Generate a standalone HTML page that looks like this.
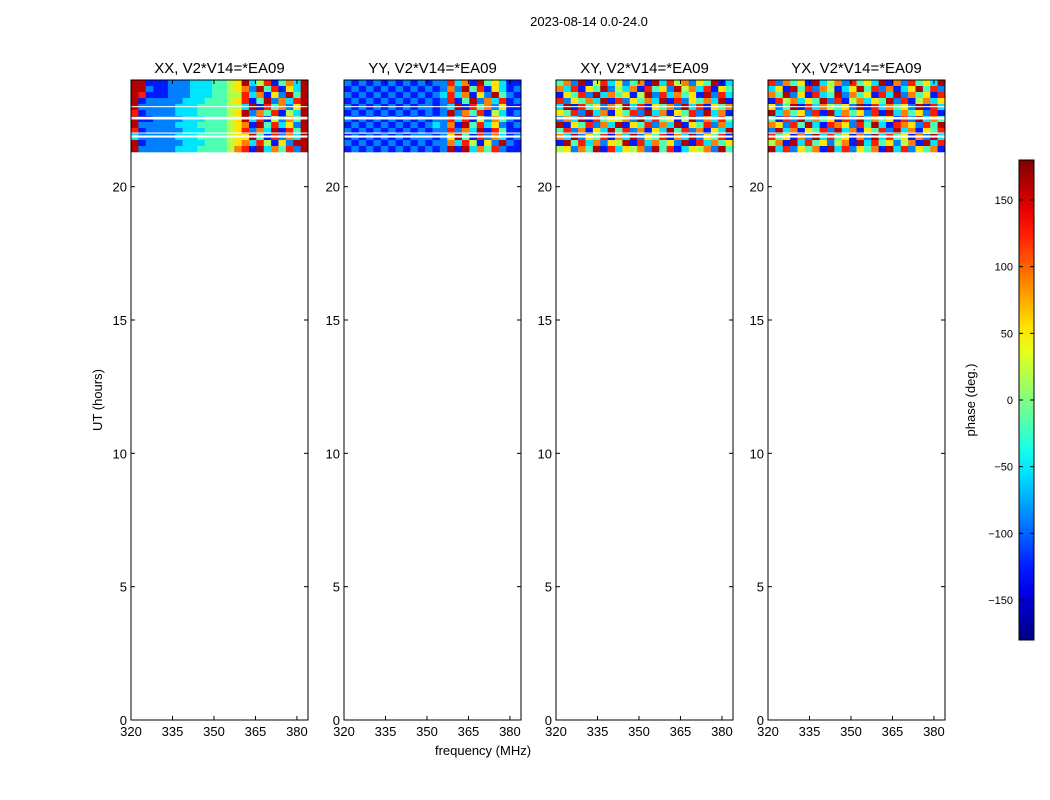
<!DOCTYPE html>
<html><head><meta charset="utf-8"><style>
html,body{margin:0;padding:0;background:#fff;}
svg{display:block;font-family:"Liberation Sans","DejaVu Sans",sans-serif;}
</style></head><body>
<svg id="fig" width="1050" height="800" viewBox="0 0 1050 800" xmlns="http://www.w3.org/2000/svg">
<rect width="1050" height="800" fill="#fff"/>
<text x="589" y="26" font-size="13" text-anchor="middle">2023-08-14 0.0-24.0</text>
<text x="483" y="755" font-size="13" text-anchor="middle">frequency (MHz)</text>
<text transform="translate(102,400) rotate(-90)" font-size="13" text-anchor="middle">UT (hours)</text>
<text transform="translate(975,400) rotate(-90)" font-size="13" text-anchor="middle">phase (deg.)</text>
<g id="panels"></g>
<g id="cbar"></g>
</svg>
<script>
// ---- data ----
const panelTitles = ["XX, V2*V14=*EA09","YY, V2*V14=*EA09","XY, V2*V14=*EA09","YX, V2*V14=*EA09"];
const xTicks = [320,335,350,365,380];
const yTicks = [0,5,10,15,20];
const cbTicks = [-150,-100,-50,0,50,100,150];
const freqRange = [320,384];
const timeRange = [0,24];
const dataTimeRange = [21.3,24];
// phase codes 0..9 -> -180..180 (bin centres)
const xxRows = [
"991112223334456935814739",
"992112223334456729481639",
"981112223334455837162949",
"912222233344456814927389",
"922222333444455391847269",
"812222333444456927481539",
"911222233344456938152749",
"922222333444456719483629",
"812222233344456827391849",
"322222333444456694182739",
"912222233344456738516299",
"922222333444457819374829"];
const yyRows = [
"212121212121228371946311",
"121212121212127294816312",
"212121212121238371629421",
"121212121212128149273812",
"212121212122123918472611",
"121212121212129274815312",
"212121212121228381527421",
"121212121212327194836212",
"212121212121228273918411",
"121212121222126941827312",
"212121212121227385162921",
"121212121212129193748211"];
const xyRows = [
"472915836247193857264913",
"738164925371846295738164",
"164829374615928374619283",
"826473918264739182647391",
"391846275938164729381647",
"648293716482937164829371",
"273918465729384615927384",
"916482739164827391648273",
"482716394827163948271639",
"739264817392648173926481",
"194837265918374629183746",
"562749183657294813657294"];
const yxRows = [
"827461935728463917284639",
"361948275136948271369482",
"749261834927461839274618",
"185736492815736492815736",
"624918375462918374629183",
"937462819374628193746281",
"418293746182937461829374",
"762849318762849318762849",
"293716482937164829371648",
"846172938461729384617293",
"571938462571938462571938",
"938264719382647193826471"];
const panelData = [xxRows, yyRows, xyRows, yxRows];
// flagged/blank time ranges (hours) shown as white stripes
const gapStart = [22.98, 22.52, 21.99, 21.84];
const gapEnd   = [23.02, 22.62, 22.03, 21.92];

// ---- layout ----
const panelX = [131,344,556,768];
const panelW = 177;
const plotTop = 80, plotBot = 720;
const NS = "http://www.w3.org/2000/svg";
function el(tag, attrs, parent){ const e=document.createElementNS(NS,tag); for(const k in attrs) e.setAttribute(k,attrs[k]); parent.appendChild(e); return e; }
function jet(v){
  const c=x=>Math.max(0,Math.min(1,x));
  const r=c(1.5-Math.abs(4*v-3)), g=c(1.5-Math.abs(4*v-2)), b=c(1.5-Math.abs(4*v-1));
  return `rgb(${Math.round(r*255)},${Math.round(g*255)},${Math.round(b*255)})`;
}
function yScale(t){ return plotBot - (t-timeRange[0])/(timeRange[1]-timeRange[0])*(plotBot-plotTop); }
const panelsG = document.getElementById('panels');
panelData.forEach((rows, p)=>{
  const x0 = panelX[p];
  const xScale = f => x0 + (f-freqRange[0])/(freqRange[1]-freqRange[0])*panelW;
  const g = el('g',{},panelsG);
  
  
  const nR = rows.length, nC = rows[0].length;
  const dt = (dataTimeRange[1]-dataTimeRange[0])/nR;
  const df = (freqRange[1]-freqRange[0])/nC;
  rows.forEach((row, i)=>{
    const tHi = dataTimeRange[1]-i*dt, tLo = tHi-dt;
    for(let j=0;j<nC;j++){
      const code = +row[j];
      const phase = -180 + 36*code + 18;
      const xa = xScale(freqRange[0]+j*df), xb = xScale(freqRange[0]+(j+1)*df);
      const r = el('rect',{x:xa,y:yScale(tHi),width:xb-xa+0.3,height:yScale(tLo)-yScale(tHi)+0.3,fill:jet((phase+180)/360)},g);
      
      
    }
  });
  gapStart.forEach((s,k)=>{
    const r = el('rect',{x:x0,y:yScale(gapEnd[k]),width:panelW,height:yScale(s)-yScale(gapEnd[k]),fill:'#fff'},g);
    
    
  });
  const frame = el('rect',{x:x0,y:plotTop,width:panelW,height:plotBot-plotTop,fill:'none',stroke:'#000','stroke-width':1},g);
  
  
  const tt = el('text',{x:x0+panelW/2,y:73,'font-size':15,'text-anchor':'middle'},g);
  tt.textContent = panelTitles[p];
  
  
  xTicks.forEach(v=>{
    const x = xScale(v);
    el('line',{x1:x,x2:x,y1:plotBot,y2:plotBot-4,stroke:'#000'},g);
    el('line',{x1:x,x2:x,y1:plotTop,y2:plotTop+4,stroke:'#000'},g);
    const t = el('text',{x:x,y:plotBot+16,'font-size':13,'text-anchor':'middle'},g);
    t.textContent = v;
    
    
  });
  yTicks.forEach(v=>{
    const y = yScale(v);
    el('line',{x1:x0,x2:x0+4,y1:y,y2:y,stroke:'#000'},g);
    el('line',{x1:x0+panelW,x2:x0+panelW-4,y1:y,y2:y,stroke:'#000'},g);
    const t = el('text',{x:x0-4,y:y+5,'font-size':13,'text-anchor':'end'},g);
    t.textContent = v;
    
    
  });
});
// colorbar
const cb = document.getElementById('cbar');


const cbX=1019, cbW=15, cbTop=160, cbBot=640;
const defs = el('defs',{},cb);
const lg = el('linearGradient',{id:'jetg',x1:0,y1:1,x2:0,y2:0},defs);
for(let i=0;i<=20;i++){ el('stop',{offset:i/20,'stop-color':jet(i/20)},lg); }
el('rect',{x:cbX,y:cbTop,width:cbW,height:cbBot-cbTop,fill:'url(#jetg)',stroke:'#000'},cb);
const cbY = v => cbBot - (v+180)/360*(cbBot-cbTop);
cbTicks.forEach(v=>{
  const y = cbY(v);
  el('line',{x1:cbX,x2:cbX+4,y1:y,y2:y,stroke:'#000'},cb);
  el('line',{x1:cbX+cbW,x2:cbX+cbW-4,y1:y,y2:y,stroke:'#000'},cb);
  const t = el('text',{x:1013,y:y+4,'font-size':11,'text-anchor':'end'},cb);
  t.textContent = v<0 ? '\u2212'+(-v) : v;
  
  
});
</script>
</body></html>
